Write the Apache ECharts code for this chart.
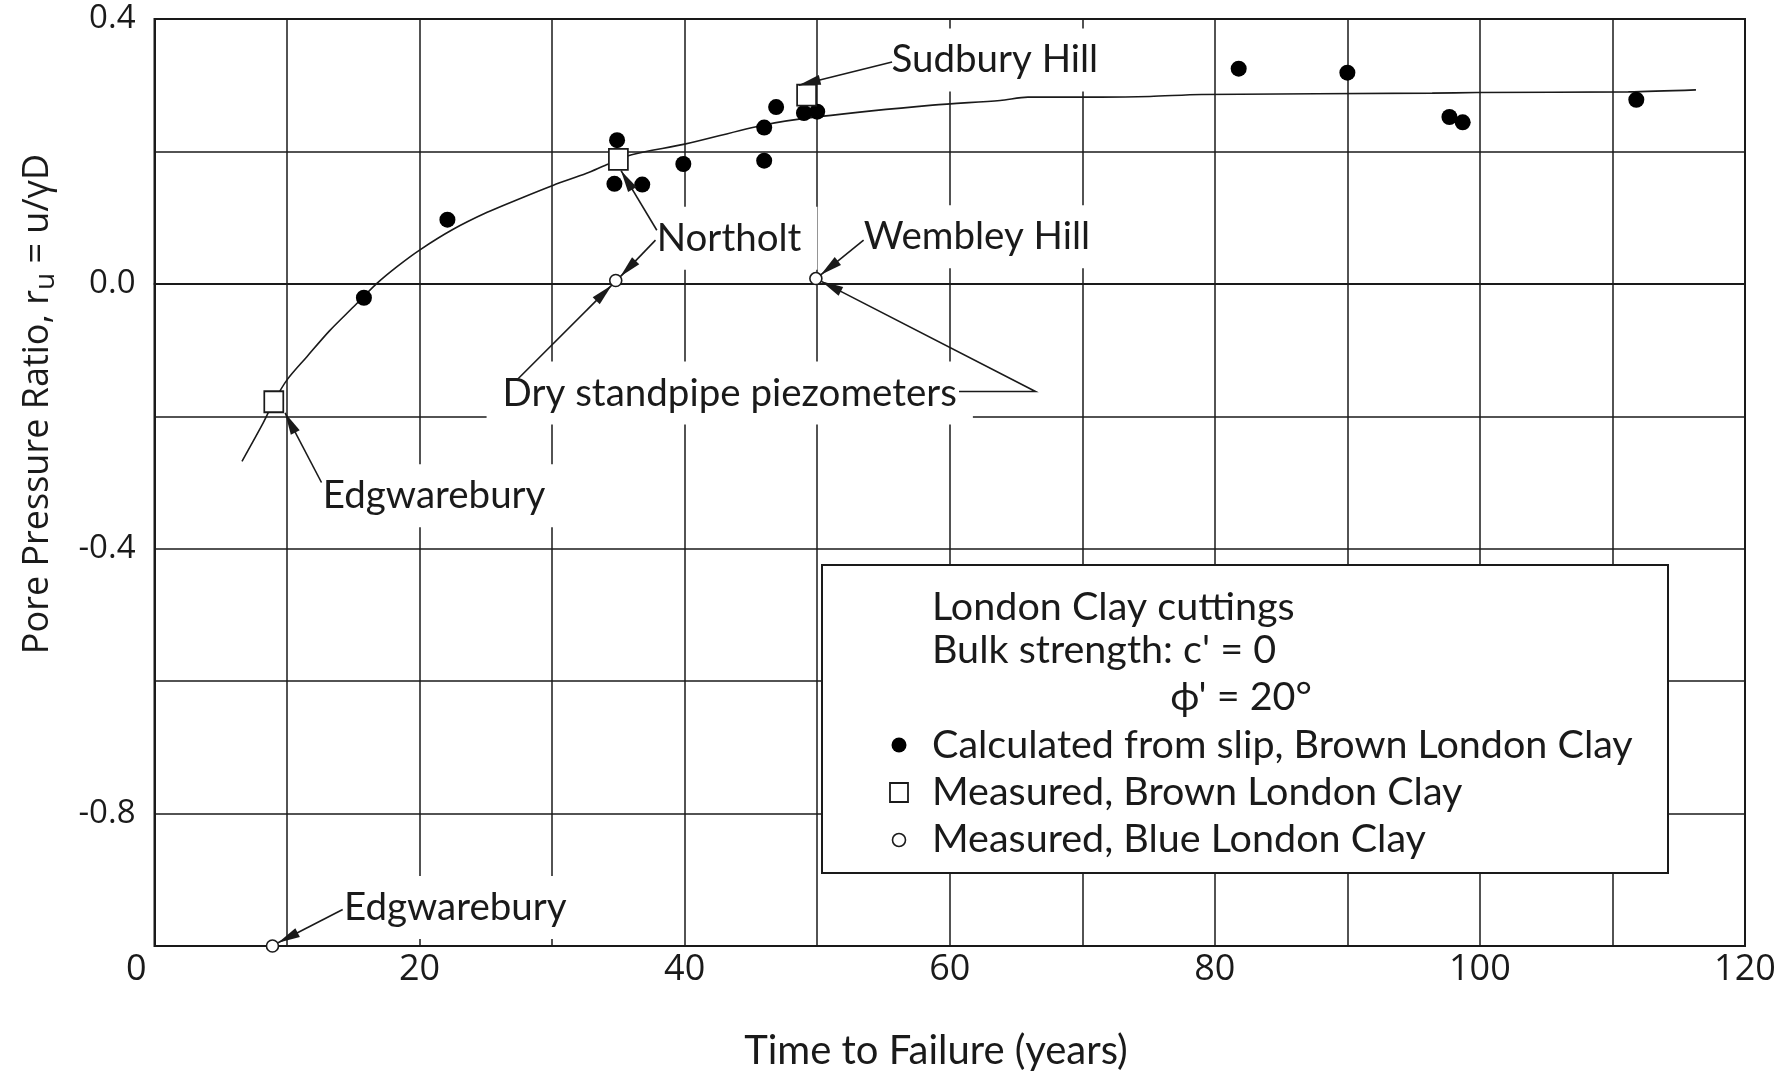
<!DOCTYPE html>
<html>
<head>
<meta charset="utf-8">
<script src="https://cdn.jsdelivr.net/npm/echarts@6/dist/echarts.min.js"></script>
<style>
  html, body { margin: 0; padding: 0; background: #fff; }
  #chart { width: 1788px; height: 1073px; }
</style>
</head>
<body>
<div id="chart"></div>
<script>
// Pore pressure ratio r_u against time to failure, London Clay cuttings

// Calculated from slip, Brown London Clay
const slipYears = [15.8, 22.1, 34.7, 34.9, 36.8, 39.9, 46.0, 46.0, 46.9, 49.0, 50.0, 81.8, 90.0, 97.7, 98.7, 111.8];
const slipRu    = [-0.021, 0.097, 0.151, 0.217, 0.150, 0.181, 0.236, 0.186, 0.267, 0.258, 0.260, 0.325, 0.319, 0.252, 0.244, 0.278];

// Measured, Brown London Clay (Edgwarebury, Northolt, Sudbury Hill)
const brownYears = [9.0, 35.0, 49.2];
const brownRu    = [-0.178, 0.188, 0.285];

// Measured, Blue London Clay (Edgwarebury, Northolt, Wembley Hill)
const blueYears = [8.9, 34.8, 49.9];
const blueRu    = [-1.0, 0.005, 0.008];

// Trend curve through the results
const curveYears = [6.6, 8.2, 9.0, 10.0, 11.5, 13.2, 15.0, 16.8, 18.3, 20.0, 22.5, 25.1, 27.6, 30.1, 32.6, 34.1, 36.0, 40.0, 46.0, 50.1, 58.7, 63.8, 65.9, 71.4, 75.1, 79.0, 96.4, 99.8, 111.2, 116.3];
const curveRu    = [-0.268, -0.210, -0.178, -0.145, -0.110, -0.071, -0.035, 0.001, 0.026, 0.051, 0.082, 0.108, 0.129, 0.149, 0.167, 0.180, 0.195, 0.211, 0.240, 0.2525, 0.270, 0.277, 0.282, 0.282, 0.283, 0.286, 0.288, 0.289, 0.290, 0.293];

// Site labels (text centre, in years / r_u)
const noteTexts = ['Sudbury Hill', 'Northolt', 'Wembley Hill', 'Dry standpipe piezometers', 'Edgwarebury', 'Edgwarebury'];
const noteYears = [63.4, 43.35, 62.05, 43.4, 21.1, 22.7];
const noteRu    = [0.338, 0.069, 0.071, -0.165, -0.320, -0.942];

// Leader lines from labels to points; the last vertex carries the arrowhead
const leaderPaths = [
  [[55.65, 0.335], [48.6, 0.300]],
  [[37.9, 0.081], [35.2, 0.171]],
  [[37.8, 0.066], [35.15, 0.011]],
  [[53.5, 0.066], [50.27, 0.0136]],
  [[27.3, -0.146], [34.5, -0.002]],
  [[60.7, -0.1626], [66.47, -0.1626], [50.31, 0.0038]],
  [[12.6, -0.300], [9.85, -0.195]],
  [[14.2, -0.945], [9.32, -0.995]]
];

// Axis ticks
const xTickStep = 10, xLabelStep = 20;
const yTickStep = 0.2, yLabelStep = 0.4;

const ink = '#1a1a1a';

function zip(xs, ys) { return xs.map((x, i) => [x, ys[i]]); }

const chart = echarts.init(document.getElementById('chart'), null, { renderer: 'canvas' });

const legendFont = { fontFamily: 'Lato', fontSize: 39.5, fill: ink, verticalAlign: 'middle' };

chart.setOption({
  backgroundColor: '#ffffff',
  animation: false,
  grid: {
    left: 154.5, top: 19, right: 43, bottom: 127,
    show: true, borderColor: ink, borderWidth: 2, backgroundColor: 'transparent',
    outerBoundsMode: 'none', containLabel: false
  },
  xAxis: {
    type: 'value', min: 0, max: 120, interval: xTickStep,
    axisLine: { show: true, lineStyle: { color: ink, width: 2 } },
    axisTick: { show: false },
    splitLine: { show: true, lineStyle: { color: ink, width: 1.5 } },
    axisLabel: {
      color: ink, fontFamily: 'Open Sans', fontSize: 36, margin: 6,
      alignMinLabel: 'right', alignMaxLabel: 'center',
      formatter: v => {
        const n = Math.round(v);
        if (n % xLabelStep !== 0) return '';
        return n === 0 ? '{origin|0}' : String(n);
      },
      rich: { origin: { fontFamily: 'Open Sans', fontSize: 36, color: ink, padding: [0, 8, 0, 0] } }
    }
  },
  yAxis: {
    type: 'value', min: -1.0, max: 0.4, interval: yTickStep,
    axisLine: { show: true, lineStyle: { color: ink, width: 2 } },
    axisTick: { show: false },
    splitLine: { show: true, lineStyle: { color: ink, width: 1.5 } },
    axisLabel: {
      color: ink, fontFamily: 'Open Sans', fontSize: 33, margin: 19, padding: [7, 0, 0, 0],
      formatter: v => {
        const k = Math.round(v * 10);
        return k % Math.round(yLabelStep * 10) === 0 ? (k / 10).toFixed(1) : '';
      }
    }
  },
  series: [
    {
      // white boxes with site names, lying over the grid lines
      type: 'custom', name: 'notes', z: 1, clip: false, silent: true,
      data: zip(noteYears, noteRu),
      renderItem: (params, api) => {
        const p = api.coord([api.value(0), api.value(1)]);
        return {
          type: 'text', x: p[0], y: p[1],
          style: {
            text: noteTexts[params.dataIndex],
            fontFamily: 'Lato', fontSize: 38.5, fill: ink,
            align: 'center', verticalAlign: 'middle',
            backgroundColor: '#ffffff', padding: [12, 16]
          }
        };
      }
    },
    {
      type: 'line', name: 'trend', z: 2,
      data: zip(curveYears, curveRu),
      showSymbol: false, symbol: 'none', smooth: 0.3,
      lineStyle: { color: ink, width: 1.6 }
    },
    {
      type: 'scatter', name: 'Calculated from slip, Brown London Clay', z: 3, clip: false,
      data: zip(slipYears, slipRu),
      symbol: 'circle', symbolSize: 16,
      itemStyle: { color: '#000', opacity: 1 }
    },
    {
      type: 'scatter', name: 'Measured, Brown London Clay', z: 3, clip: false,
      data: zip(brownYears, brownRu),
      symbol: 'rect', symbolSize: [19, 21],
      itemStyle: { color: '#fff', borderColor: ink, borderWidth: 1.8, opacity: 1 }
    },
    {
      type: 'scatter', name: 'Measured, Blue London Clay', z: 3, clip: false,
      data: zip(blueYears, blueRu),
      symbol: 'circle', symbolSize: 12,
      itemStyle: { color: '#fff', borderColor: ink, borderWidth: 1.6, opacity: 1 }
    },
    {
      // leader lines with arrowheads
      type: 'custom', name: 'leaders', z: 4, clip: false, silent: true,
      data: leaderPaths.map(p => p[p.length - 1]),
      renderItem: (params, api) => {
        const pts = leaderPaths[params.dataIndex].map(q => api.coord(q));
        const tip = pts[pts.length - 1], prev = pts[pts.length - 2];
        const dx = tip[0] - prev[0], dy = tip[1] - prev[1];
        const len = Math.hypot(dx, dy) || 1;
        const ux = dx / len, uy = dy / len;
        const headLen = 22, headHalf = 5;
        const bx = tip[0] - ux * headLen, by = tip[1] - uy * headLen;
        return {
          type: 'group',
          children: [
            { type: 'polyline', shape: { points: pts }, style: { stroke: ink, lineWidth: 1.6, fill: null } },
            { type: 'polygon', shape: { points: [tip, [bx - uy * headHalf, by + ux * headHalf], [bx + uy * headHalf, by - ux * headHalf]] },
              style: { fill: ink, stroke: null } }
          ]
        };
      }
    }
  ],
  graphic: {
    elements: [
      {
        type: 'text', x: 38, y: 404, rotation: Math.PI / 2, z: 100,
        style: {
          text: 'Pore Pressure Ratio, r{sub|u} = u/γD',
          fontFamily: 'Open Sans', fontSize: 36, fill: ink, lineHeight: 44,
          align: 'center', verticalAlign: 'middle',
          rich: { sub: { fontFamily: 'Open Sans', fontSize: 28, lineHeight: 32, verticalAlign: 'bottom', fill: ink } }
        }
      },
      {
        type: 'text', x: 936, y: 1051, z: 100,
        style: { text: 'Time to Failure (years)', fontFamily: 'Lato', fontSize: 40, fill: ink, align: 'center', verticalAlign: 'middle' }
      },
      // legend panel
      { type: 'rect', z: 100, shape: { x: 822, y: 565, width: 846, height: 308 }, style: { fill: '#ffffff', stroke: ink, lineWidth: 2 } },
      { type: 'text', z: 101, x: 932, y: 607, style: Object.assign({ text: 'London Clay cuttings' }, legendFont) },
      { type: 'text', z: 101, x: 932, y: 650, style: Object.assign({ text: "Bulk strength: c' = 0" }, legendFont) },
      { type: 'text', z: 101, x: 1241, y: 697, style: Object.assign({ text: "ϕ' = 20°", align: 'center' }, legendFont) },
      { type: 'circle', z: 101, shape: { cx: 899, cy: 745, r: 7.5 }, style: { fill: '#000' } },
      { type: 'text', z: 101, x: 932, y: 745, style: Object.assign({ text: 'Calculated from slip, Brown London Clay' }, legendFont) },
      { type: 'rect', z: 101, shape: { x: 890, y: 783, width: 18, height: 19 }, style: { fill: '#fff', stroke: ink, lineWidth: 1.8 } },
      { type: 'text', z: 101, x: 932, y: 792, style: Object.assign({ text: 'Measured, Brown London Clay' }, legendFont) },
      { type: 'circle', z: 101, shape: { cx: 899, cy: 840, r: 6.5 }, style: { fill: '#fff', stroke: ink, lineWidth: 1.6 } },
      { type: 'text', z: 101, x: 932, y: 839, style: Object.assign({ text: 'Measured, Blue London Clay' }, legendFont) }
    ]
  }
});
</script>
</body>
</html>
